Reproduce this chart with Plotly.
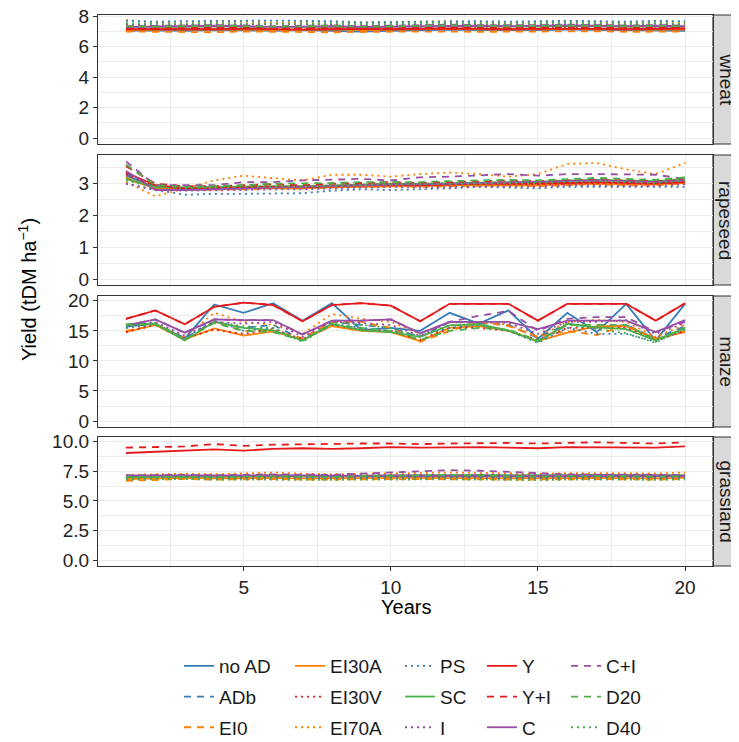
import plotly.graph_objects as go

years = list(range(1, 21))
crops = ["wheat", "rapeseed", "maize", "grassland"]
scenarios = ["no AD", "ADb", "EI0", "EI30A", "EI30V", "EI70A", "PS", "SC",
             "I", "Y", "Y+I", "C", "C+I", "D20", "D40"]

wheat = {
    "no AD": [7.05, 7.08, 7.05, 7.1, 7.08, 7.05, 7.1, 7.05, 7.0, 7.05, 7.1, 7.12, 7.1, 7.08, 7.1, 7.12, 7.1, 7.08, 7.1, 7.05],
    "ADb":   [7.1, 7.12, 7.1, 7.08, 7.12, 7.1, 7.08, 7.1, 7.05, 7.08, 7.12, 7.15, 7.12, 7.1, 7.12, 7.15, 7.12, 7.1, 7.12, 7.1],
    "EI0":   [7.0, 6.98, 7.0, 6.95, 7.0, 6.98, 7.0, 6.95, 6.98, 7.0, 7.02, 7.0, 6.98, 7.0, 6.98, 7.0, 7.02, 6.98, 7.0, 7.0],
    "EI30A": [7.1, 7.12, 7.15, 7.12, 7.15, 7.1, 7.12, 7.15, 7.1, 7.12, 7.15, 7.18, 7.15, 7.12, 7.15, 7.18, 7.15, 7.12, 7.15, 7.12],
    "EI30V": [7.15, 7.2, 7.18, 7.2, 7.22, 7.18, 7.2, 7.22, 7.18, 7.2, 7.22, 7.25, 7.22, 7.2, 7.22, 7.25, 7.22, 7.2, 7.22, 7.2],
    "EI70A": [7.75, 7.6, 7.65, 7.62, 7.65, 7.6, 7.62, 7.65, 7.6, 7.62, 7.65, 7.68, 7.62, 7.6, 7.65, 7.68, 7.62, 7.6, 7.65, 7.62],
    "PS":    [7.7, 7.65, 7.68, 7.7, 7.68, 7.72, 7.7, 7.68, 7.6, 7.62, 7.65, 7.7, 7.68, 7.65, 7.68, 7.7, 7.68, 7.65, 7.7, 7.68],
    "SC":    [7.3, 7.28, 7.3, 7.32, 7.3, 7.28, 7.3, 7.32, 7.28, 7.3, 7.32, 7.35, 7.32, 7.3, 7.32, 7.35, 7.32, 7.3, 7.32, 7.3],
    "I":     [7.45, 7.42, 7.45, 7.48, 7.45, 7.5, 7.48, 7.45, 7.4, 7.42, 7.45, 7.5, 7.48, 7.45, 7.48, 7.5, 7.48, 7.45, 7.5, 7.48],
    "Y":     [7.15, 7.15, 7.12, 7.15, 7.18, 7.15, 7.12, 7.15, 7.18, 7.15, 7.18, 7.2, 7.18, 7.15, 7.18, 7.2, 7.18, 7.15, 7.18, 7.2],
    "Y+I":   [7.2, 7.22, 7.2, 7.22, 7.25, 7.22, 7.2, 7.22, 7.25, 7.22, 7.25, 7.28, 7.25, 7.22, 7.25, 7.28, 7.25, 7.22, 7.25, 7.28],
    "C":     [7.3, 7.32, 7.35, 7.38, 7.35, 7.3, 7.32, 7.35, 7.3, 7.32, 7.35, 7.4, 7.38, 7.35, 7.38, 7.4, 7.38, 7.35, 7.38, 7.35],
    "C+I":   [7.35, 7.38, 7.4, 7.42, 7.4, 7.35, 7.38, 7.4, 7.35, 7.38, 7.4, 7.45, 7.42, 7.4, 7.42, 7.45, 7.42, 7.4, 7.42, 7.4],
    "D20":   [7.35, 7.32, 7.35, 7.38, 7.35, 7.32, 7.35, 7.38, 7.32, 7.35, 7.38, 7.4, 7.38, 7.35, 7.38, 7.4, 7.38, 7.35, 7.38, 7.35],
    "D40":   [7.55, 7.5, 7.52, 7.55, 7.52, 7.5, 7.52, 7.55, 7.5, 7.52, 7.55, 7.58, 7.55, 7.52, 7.55, 7.58, 7.55, 7.52, 7.55, 7.52],
}

rapeseed = {
    "no AD": [3.25, 2.88, 2.82, 2.85, 2.85, 2.88, 2.85, 2.9, 2.92, 2.95, 2.95, 2.97, 2.95, 2.98, 3.0, 3.0, 3.02, 2.98, 3.0, 3.05],
    "ADb":   [3.3, 2.9, 2.85, 2.85, 2.88, 2.9, 2.88, 2.9, 2.95, 2.98, 2.95, 3.0, 3.0, 3.02, 3.0, 3.05, 3.05, 3.02, 3.02, 3.08],
    "EI0":   [3.2, 2.85, 2.8, 2.8, 2.82, 2.85, 2.85, 2.88, 2.9, 2.92, 2.9, 2.92, 2.95, 2.95, 2.92, 2.95, 2.98, 2.95, 2.95, 3.0],
    "EI30A": [3.15, 2.85, 2.82, 2.82, 2.85, 2.85, 2.85, 2.88, 2.9, 2.92, 2.92, 2.95, 2.95, 2.95, 2.95, 2.98, 3.0, 2.98, 2.98, 3.02],
    "EI30V": [3.3, 2.9, 2.85, 2.88, 2.88, 2.9, 2.9, 2.92, 2.95, 2.95, 2.95, 2.98, 3.0, 3.0, 2.98, 3.0, 3.02, 3.0, 3.0, 3.05],
    "EI70A": [3.05, 2.6, 2.85, 3.1, 3.25, 3.18, 3.1, 3.28, 3.28, 3.22, 3.3, 3.35, 3.3, 3.22, 3.3, 3.62, 3.65, 3.45, 3.3, 3.65],
    "PS":    [3.0, 2.8, 2.65, 2.68, 2.68, 2.7, 2.7, 2.78, 2.82, 2.8, 2.82, 2.85, 2.9, 2.88, 2.85, 2.9, 2.9, 2.92, 2.92, 2.9],
    "SC":    [3.15, 2.9, 2.88, 2.9, 2.92, 2.92, 2.92, 2.95, 2.98, 3.0, 3.0, 3.02, 3.05, 3.05, 3.05, 3.1, 3.12, 3.1, 3.08, 3.15],
    "I":     [3.0, 2.8, 2.78, 2.78, 2.8, 2.82, 2.82, 2.85, 2.88, 2.9, 2.88, 2.9, 2.92, 2.92, 2.9, 2.95, 2.95, 2.92, 2.92, 2.98],
    "Y":     [3.35, 2.95, 2.85, 2.85, 2.88, 2.9, 2.88, 2.92, 2.95, 2.98, 2.95, 2.98, 3.0, 3.0, 3.0, 3.02, 3.05, 3.02, 3.0, 3.05],
    "Y+I":   [3.55, 3.0, 2.92, 2.92, 2.95, 2.98, 2.95, 3.0, 3.02, 3.05, 3.02, 3.05, 3.08, 3.1, 3.08, 3.1, 3.12, 3.1, 3.08, 3.12],
    "C":     [3.4, 2.8, 2.8, 2.82, 2.85, 2.88, 2.88, 2.92, 2.95, 2.98, 2.98, 3.0, 3.02, 3.05, 3.05, 3.08, 3.1, 3.08, 3.05, 3.1],
    "C+I":   [3.7, 2.95, 2.95, 2.95, 3.05, 3.05, 3.1, 3.12, 3.15, 3.1, 3.2, 3.22, 3.25, 3.3, 3.25, 3.3, 3.3, 3.28, 3.28, 3.15],
    "D20":   [3.6, 2.95, 2.9, 2.92, 2.95, 3.0, 3.0, 3.02, 3.05, 3.05, 3.05, 3.08, 3.1, 3.12, 3.1, 3.15, 3.18, 3.15, 3.12, 3.2],
    "D40":   [3.1, 2.88, 2.85, 2.88, 2.9, 2.9, 2.9, 2.92, 2.95, 2.98, 2.98, 3.0, 3.02, 3.02, 3.02, 3.05, 3.08, 3.05, 3.02, 3.1],
}

maize = {
    "no AD": [15.7, 16.2, 13.7, 19.4, 18.0, 19.6, 16.7, 19.6, 15.1, 15.5, 15.0, 18.0, 16.2, 18.4, 13.7, 18.0, 14.8, 19.5, 13.4, 19.5],
    "ADb":   [15.7, 16.2, 13.8, 16.5, 15.5, 16.0, 13.5, 16.5, 16.0, 15.5, 14.0, 16.5, 16.3, 16.0, 13.8, 16.2, 15.5, 16.0, 13.7, 15.8],
    "EI0":   [15.0, 16.0, 13.5, 16.5, 15.0, 15.0, 13.8, 16.5, 16.5, 15.5, 13.2, 15.0, 16.5, 15.8, 14.0, 15.0, 14.3, 16.0, 13.5, 15.0],
    "EI30A": [14.8, 16.0, 13.6, 15.4, 14.2, 14.9, 13.5, 15.8, 15.0, 14.8, 13.3, 15.5, 15.8, 15.0, 13.3, 14.7, 15.8, 15.8, 13.7, 14.8],
    "EI30V": [14.8, 16.0, 13.8, 15.2, 14.5, 15.3, 13.6, 16.0, 15.2, 15.0, 13.5, 15.5, 15.5, 15.0, 13.5, 15.5, 15.5, 15.5, 13.5, 15.0],
    "EI70A": [15.5, 16.2, 14.0, 18.0, 16.5, 16.0, 14.5, 17.8, 17.0, 16.5, 14.5, 16.5, 16.5, 16.0, 14.0, 16.5, 16.8, 16.5, 14.0, 16.0],
    "PS":    [15.5, 16.0, 13.8, 16.8, 15.0, 15.5, 13.2, 16.2, 15.5, 15.0, 14.2, 15.5, 16.0, 15.0, 13.0, 15.5, 14.5, 14.5, 13.2, 15.2],
    "SC":    [16.1, 16.2, 13.4, 16.5, 15.5, 15.1, 13.4, 16.2, 15.1, 14.8, 14.0, 15.9, 16.1, 15.1, 13.2, 16.2, 15.6, 15.3, 13.4, 15.5],
    "I":     [15.8, 16.5, 14.2, 16.5, 16.2, 16.5, 14.0, 16.5, 16.3, 16.0, 14.2, 16.4, 16.5, 16.3, 14.5, 16.5, 16.5, 16.8, 14.5, 16.3],
    "Y":     [17.0, 18.4, 16.1, 19.0, 19.7, 19.3, 16.6, 19.3, 19.6, 19.2, 16.6, 19.5, 19.5, 19.5, 16.7, 19.5, 19.5, 19.5, 16.7, 19.6],
    "Y+I":   [17.0, 18.4, 16.1, 19.0, 19.7, 19.3, 16.6, 19.3, 19.6, 19.2, 16.6, 19.5, 19.5, 19.5, 16.7, 19.5, 19.5, 19.5, 16.7, 19.6],
    "C":     [15.9, 16.9, 14.7, 16.9, 16.8, 16.8, 14.4, 16.7, 16.7, 16.9, 14.6, 16.5, 16.5, 16.5, 15.3, 16.7, 16.7, 16.7, 14.8, 16.8],
    "C+I":   [15.9, 16.9, 14.7, 16.9, 16.8, 16.8, 14.4, 16.7, 16.7, 16.9, 14.6, 16.5, 17.5, 18.3, 15.0, 17.0, 17.3, 17.3, 14.8, 16.5],
    "D20":   [16.0, 16.2, 13.6, 16.3, 15.0, 14.8, 13.4, 16.0, 15.5, 15.0, 13.5, 15.0, 15.5, 15.2, 13.4, 16.0, 16.0, 16.0, 13.5, 15.3],
    "D40":   [15.8, 16.0, 13.4, 16.5, 15.8, 15.5, 13.2, 16.4, 16.0, 15.5, 14.0, 16.0, 16.0, 15.0, 13.2, 16.0, 15.3, 14.6, 13.0, 15.6],
}

grassland = {
    "no AD": [7.05, 7.08, 7.1, 7.05, 7.1, 7.12, 7.08, 7.05, 7.1, 7.08, 7.1, 7.12, 7.1, 7.08, 7.05, 7.1, 7.12, 7.1, 7.08, 7.1],
    "ADb":   [6.95, 7.0, 7.02, 6.98, 7.0, 7.02, 7.0, 6.98, 7.0, 7.02, 7.0, 7.02, 7.0, 6.98, 6.95, 7.0, 7.02, 7.0, 6.98, 7.0],
    "EI0":   [6.7, 6.8, 6.85, 6.8, 6.82, 6.85, 6.8, 6.78, 6.82, 6.85, 6.82, 6.85, 6.82, 6.8, 6.78, 6.82, 6.85, 6.82, 6.8, 6.85],
    "EI30A": [6.85, 6.9, 6.95, 6.9, 6.92, 6.95, 6.9, 6.88, 6.92, 6.95, 6.92, 6.95, 6.92, 6.9, 6.88, 6.92, 6.95, 6.92, 6.9, 6.95],
    "EI30V": [7.0, 7.02, 7.05, 7.0, 7.05, 7.08, 7.02, 7.0, 7.05, 7.08, 7.05, 7.08, 7.05, 7.02, 7.0, 7.05, 7.08, 7.05, 7.02, 7.05],
    "EI70A": [7.2, 7.25, 7.3, 7.25, 7.35, 7.4, 7.3, 7.25, 7.3, 7.35, 7.35, 7.4, 7.38, 7.35, 7.3, 7.35, 7.38, 7.35, 7.32, 7.4],
    "PS":    [6.9, 6.95, 6.98, 6.92, 6.95, 6.98, 6.95, 6.92, 6.95, 6.98, 6.95, 6.98, 6.95, 6.92, 6.9, 6.95, 6.98, 6.95, 6.92, 6.95],
    "SC":    [7.0, 7.05, 7.08, 7.05, 7.1, 7.15, 7.1, 7.12, 7.15, 7.2, 7.2, 7.22, 7.2, 7.18, 7.15, 7.18, 7.2, 7.18, 7.15, 7.18],
    "I":     [7.1, 7.12, 7.15, 7.1, 7.15, 7.18, 7.15, 7.12, 7.15, 7.18, 7.2, 7.25, 7.22, 7.18, 7.15, 7.18, 7.2, 7.18, 7.15, 7.18],
    "Y":     [9.05, 9.15, 9.2, 9.35, 9.25, 9.4, 9.45, 9.4, 9.45, 9.55, 9.5, 9.55, 9.55, 9.5, 9.45, 9.55, 9.55, 9.5, 9.5, 9.6],
    "Y+I":   [9.5, 9.55, 9.6, 9.8, 9.65, 9.75, 9.8, 9.8, 9.85, 9.85, 9.8, 9.85, 9.9, 9.9, 9.85, 9.9, 9.95, 9.9, 9.85, 9.95],
    "C":     [7.15, 7.15, 7.12, 7.1, 7.15, 7.18, 7.15, 7.1, 7.12, 7.15, 7.12, 7.15, 7.12, 7.1, 7.08, 7.12, 7.15, 7.12, 7.1, 7.12],
    "C+I":   [7.15, 7.18, 7.2, 7.15, 7.2, 7.25, 7.22, 7.2, 7.3, 7.4, 7.5, 7.6, 7.55, 7.45, 7.3, 7.25, 7.22, 7.2, 7.18, 7.2],
    "D20":   [7.0, 7.02, 7.05, 7.0, 7.05, 7.08, 7.05, 7.02, 7.1, 7.15, 7.15, 7.18, 7.12, 7.1, 7.05, 7.1, 7.12, 7.1, 7.05, 7.08],
    "D40":   [6.8, 6.82, 6.85, 6.8, 6.78, 6.82, 6.8, 6.78, 6.8, 6.82, 6.8, 6.82, 6.8, 6.78, 6.75, 6.8, 6.82, 6.8, 6.78, 6.8],
}

crop_data = [wheat, rapeseed, maize, grassland]

# y-axis tick labels per panel
y_ticks = [[0, 2, 4, 6, 8], [0, 1, 2, 3], [0, 5, 10, 15, 20], [0, 2.5, 5, 7.5, 10]]
y_ticktext = [["0", "2", "4", "6", "8"], ["0", "1", "2", "3"],
              ["0", "5", "10", "15", "20"], ["0.0", "2.5", "5.0", "7.5", "10.0"]]
x_ticks = [5, 10, 15, 20]

# ---- styles ----
BLUE, ORANGE, RED, GREEN, PURPLE = "#377EB8", "#FF7F00", "#E41A1C", "#4DAF4A", "#984EA3"
SOLID, DASH, DOT = "solid", "7px,6px", "2px,4px"
style = {
    "no AD": (BLUE, SOLID), "ADb": (BLUE, DASH), "EI0": (ORANGE, DASH),
    "EI30A": (ORANGE, SOLID), "EI30V": (RED, DOT), "EI70A": (ORANGE, DOT),
    "PS": (BLUE, DOT), "SC": (GREEN, SOLID), "I": (PURPLE, DOT),
    "Y": (RED, SOLID), "Y+I": (RED, DASH), "C": (PURPLE, SOLID),
    "C+I": (PURPLE, DASH), "D20": (GREEN, DASH), "D40": (GREEN, DOT),
}

# page offset of the plot div (default body margin)
OFF = 8
W, H = 739 - OFF, 742 - OFF
L_PX, R_PX = 98 - OFF, 713 - OFF
T_PX, B_PX = 15 - OFF, 566 - OFF
plot_w = R_PX - L_PX
plot_h = B_PX - T_PX
panels_page = [(15, 144), (155, 285), (296, 427), (437, 566)]
y_ranges = [[-0.385, 8.085], [-0.185, 3.9], [-0.99, 20.8], [-0.5, 10.4]]
y_minor = [1, 0.5, 2.5, 1.25]


def py(page_px):
    return (B_PX - (page_px - OFF)) / plot_h


def pxx(page_px):
    return ((page_px - OFF) - L_PX) / plot_w


FONT = "Liberation Sans, Arial, sans-serif"
GRID = "#EBEBEB"
BORDER = "#333333"
TXT = "#222222"

fig = go.Figure()
for k, (crop, data) in enumerate(zip(crops, crop_data), start=1):
    for i, s in enumerate(scenarios):
        col, dash = style[s]
        leg = "legend" if i // 3 == 0 else f"legend{i // 3 + 1}"
        fig.add_trace(go.Scatter(
            x=years, y=data[s], mode="lines", name=s,
            line=dict(color=col, width=1.8, dash=dash),
            xaxis=f"x{k}" if k > 1 else "x", yaxis=f"y{k}" if k > 1 else "y",
            legend=leg, legendgroup=s, showlegend=(k == 1),
            hoverinfo="skip",
        ))

layout = dict(
    width=W, height=H,
    margin=dict(l=L_PX, r=W - R_PX, t=T_PX, b=H - B_PX, pad=0, autoexpand=False),
    paper_bgcolor="white", plot_bgcolor="white",
    font=dict(family=FONT, size=19, color=TXT),
    showlegend=True,
)

for k in range(1, 5):
    top, bot = panels_page[k - 1]
    xa = dict(
        domain=[0, 1], anchor=f"y{k}" if k > 1 else "y",
        range=[0.05, 20.95], tickvals=x_ticks,
        showgrid=True, gridcolor=GRID, gridwidth=1.3,
        minor=dict(tickvals=[2.5, 7.5, 12.5, 17.5], showgrid=True, gridcolor=GRID, gridwidth=0.7),
        zeroline=False, showline=True, mirror=True, linecolor=BORDER, linewidth=1.2,
        showticklabels=(k == 4), ticks="outside" if k == 4 else "",
        ticklen=4, tickcolor=BORDER, tickwidth=1, ticklabeloverflow="allow",
        tickfont=dict(size=19, color=TXT, family=FONT),
    )
    if k > 1:
        xa["matches"] = "x"
    ya = dict(
        domain=[py(bot), py(top)], anchor=f"x{k}" if k > 1 else "x",
        range=y_ranges[k - 1], tickvals=y_ticks[k - 1], ticktext=y_ticktext[k - 1],
        showgrid=True, gridcolor=GRID, gridwidth=1.3,
        minor=dict(dtick=y_minor[k - 1], tick0=0, showgrid=True, gridcolor=GRID, gridwidth=0.7),
        zeroline=False, showline=True, mirror=True, linecolor=BORDER, linewidth=1.2,
        ticks="outside", ticklen=4, tickcolor=BORDER, tickwidth=1, ticklabeloverflow="allow",
        tickfont=dict(size=19, color=TXT, family=FONT),
    )
    layout["xaxis" if k == 1 else f"xaxis{k}"] = xa
    layout["yaxis" if k == 1 else f"yaxis{k}"] = ya

# strips
shapes = []
annotations = []
for k, crop in enumerate(crops):
    top, bot = panels_page[k]
    shapes.append(dict(type="rect", xref="paper", yref="paper",
                       x0=1.0, x1=pxx(738), y0=py(bot), y1=py(top),
                       fillcolor="#D9D9D9", line=dict(color=BORDER, width=1.2), layer="below"))
    annotations.append(dict(text=crop, xref="paper", yref="paper",
                            x=pxx(726), y=py((top + bot) / 2), textangle=90,
                            showarrow=False, xanchor="center", yanchor="middle",
                            font=dict(size=19, color="#1A1A1A", family=FONT)))

annotations.append(dict(text="Years", xref="paper", yref="paper", x=pxx(405.5), y=py(607),
                        showarrow=False, xanchor="center", yanchor="middle",
                        font=dict(size=20, color="#000000", family=FONT)))
annotations.append(dict(text="Yield (tDM ha<sup>\u22121</sup>)", xref="paper", yref="paper",
                        x=pxx(27), y=py(290), textangle=-90,
                        showarrow=False, xanchor="center", yanchor="middle",
                        font=dict(size=20, color="#000000", family=FONT)))
layout["shapes"] = shapes
layout["annotations"] = annotations

# legends: five columns, each a separate vertical legend
leg_cols_page = [179, 290, 400, 482, 566]
for c, lx in enumerate(leg_cols_page):
    name = "legend" if c == 0 else f"legend{c + 1}"
    layout[name] = dict(
        x=pxx(lx), y=py(647), xanchor="left", yanchor="top",
        orientation="v", traceorder="grouped", tracegroupgap=3,
        bgcolor="rgba(0,0,0,0)", borderwidth=0,
        font=dict(size=19, color="#1A1A1A", family=FONT),
        itemwidth=30,
    )

fig.update_layout(**layout)
fig.write_html("out.html")
